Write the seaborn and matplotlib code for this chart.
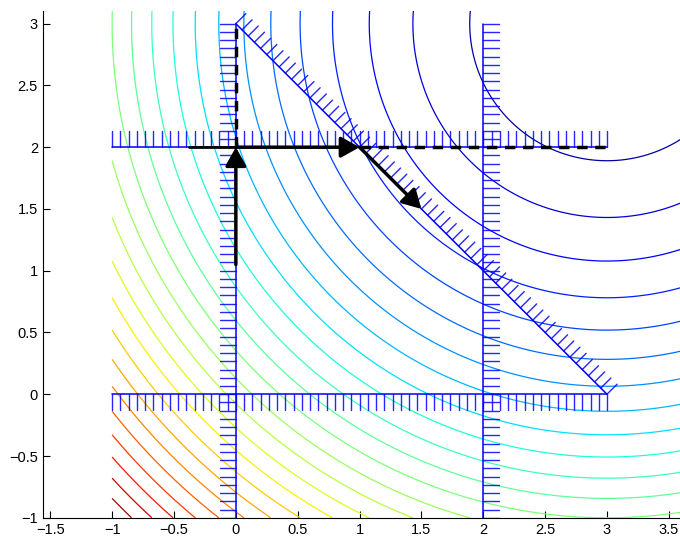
import numpy as np
import matplotlib
matplotlib.use("Agg")
import matplotlib.pyplot as plt
import seaborn as sns

# objective f(x, y) = (x - 3)^2 + (y - 3)^2, contoured like matlab contour(..., 25)
center = [3.0, 3.0]
grid_range = [-1.0, 4.0]
n_levels = 25

# constraint lines: start point, end point, hatch direction
constraint_starts = [(-1, 2), (0, -1), (2, -1), (-1, 0), (0, 3)]
constraint_ends = [(3, 2), (0, 3), (2, 3), (3, 0), (3, 0)]
hatch_dirs = [(0, 1), (-1, 0), (1, 0), (0, -1), (0.7071, 0.7071)]
hatch_counts = [61, 61, 61, 61, 61]
hatch_len = [0.13, 0.13, 0.13, 0.13, 0.115]

# path of the iterations (arrows)
arrow_starts = [(0, 1.05), (0, 2), (1, 2)]
arrow_ends = [(0, 2), (1, 2), (1.5, 1.5)]
# extra solid black piece and the dashed rays
solid_x = [-0.38, 0]
solid_y = [2, 2]
dash_x = [[0, 0], [1, 3]]
dash_y = [[2, 3], [2, 2]]

sns.set_style("ticks")
plt.rcParams['font.family'] = ['Liberation Sans', 'DejaVu Sans']
plt.rcParams['xtick.direction'] = 'in'
plt.rcParams['ytick.direction'] = 'in'

fig = plt.figure(figsize=(6.8, 5.36), dpi=100)
ax = fig.add_axes([0.063, 0.034, 0.937, 0.946])

g = np.linspace(grid_range[0], grid_range[1], 401)
X, Y = np.meshgrid(g, g)
Z = (X - center[0]) ** 2 + (Y - center[1]) ** 2
step = Z.max() / (n_levels + 1)
levels = step * np.arange(1, n_levels + 1)
# colour range spans the whole surface, as matlab does
ax.contour(X, Y, Z, levels=levels, cmap="jet", vmin=Z.min(), vmax=Z.max(),
           linewidths=0.9)

for (x0, y0), (x1, y1), (dx, dy), n, L in zip(constraint_starts, constraint_ends,
                                              hatch_dirs, hatch_counts, hatch_len):
    ax.plot([x0, x1], [y0, y1], color="blue", lw=1.1)
    t = np.linspace(0, 1, n)
    px = x0 + t * (x1 - x0)
    py = y0 + t * (y1 - y0)
    for a, b in zip(px, py):
        ax.plot([a, a + L * dx], [b, b + L * dy], color="blue", lw=1.0, alpha=0.85)

ax.plot(solid_x, solid_y, color="black", lw=2)
for xs, ys in zip(dash_x, dash_y):
    ax.plot(xs, ys, color="black", lw=2.5, linestyle=(0, (3, 2.2)))

for s, e in zip(arrow_starts, arrow_ends):
    ax.annotate("", xy=e, xytext=s,
                arrowprops=dict(arrowstyle="-|>,head_length=0.75,head_width=0.42",
                                lw=2.5, color="black", mutation_scale=15,
                                shrinkA=0, shrinkB=0))

ax.set_xlim(-1.56, 3.59)
ax.set_ylim(-1, 3.105)
ax.set_xticks(np.arange(-1.5, 3.51, 0.5))
ax.set_yticks(np.arange(-1, 3.01, 0.5))
ax.set_xticklabels(["\u22121.5", "\u22121", "\u22120.5", "0", "0.5", "1", "1.5", "2", "2.5", "3", "3.5"])
ax.set_yticklabels(["\u22121", "\u22120.5", "0", "0.5", "1", "1.5", "2", "2.5", "3"])
ax.tick_params(labelsize=10.5, length=5, width=0.8, colors="black")
sns.despine(ax=ax)
ax.spines['left'].set_color("black")
ax.spines['bottom'].set_color("black")

fig.savefig("out.png", dpi=100)
